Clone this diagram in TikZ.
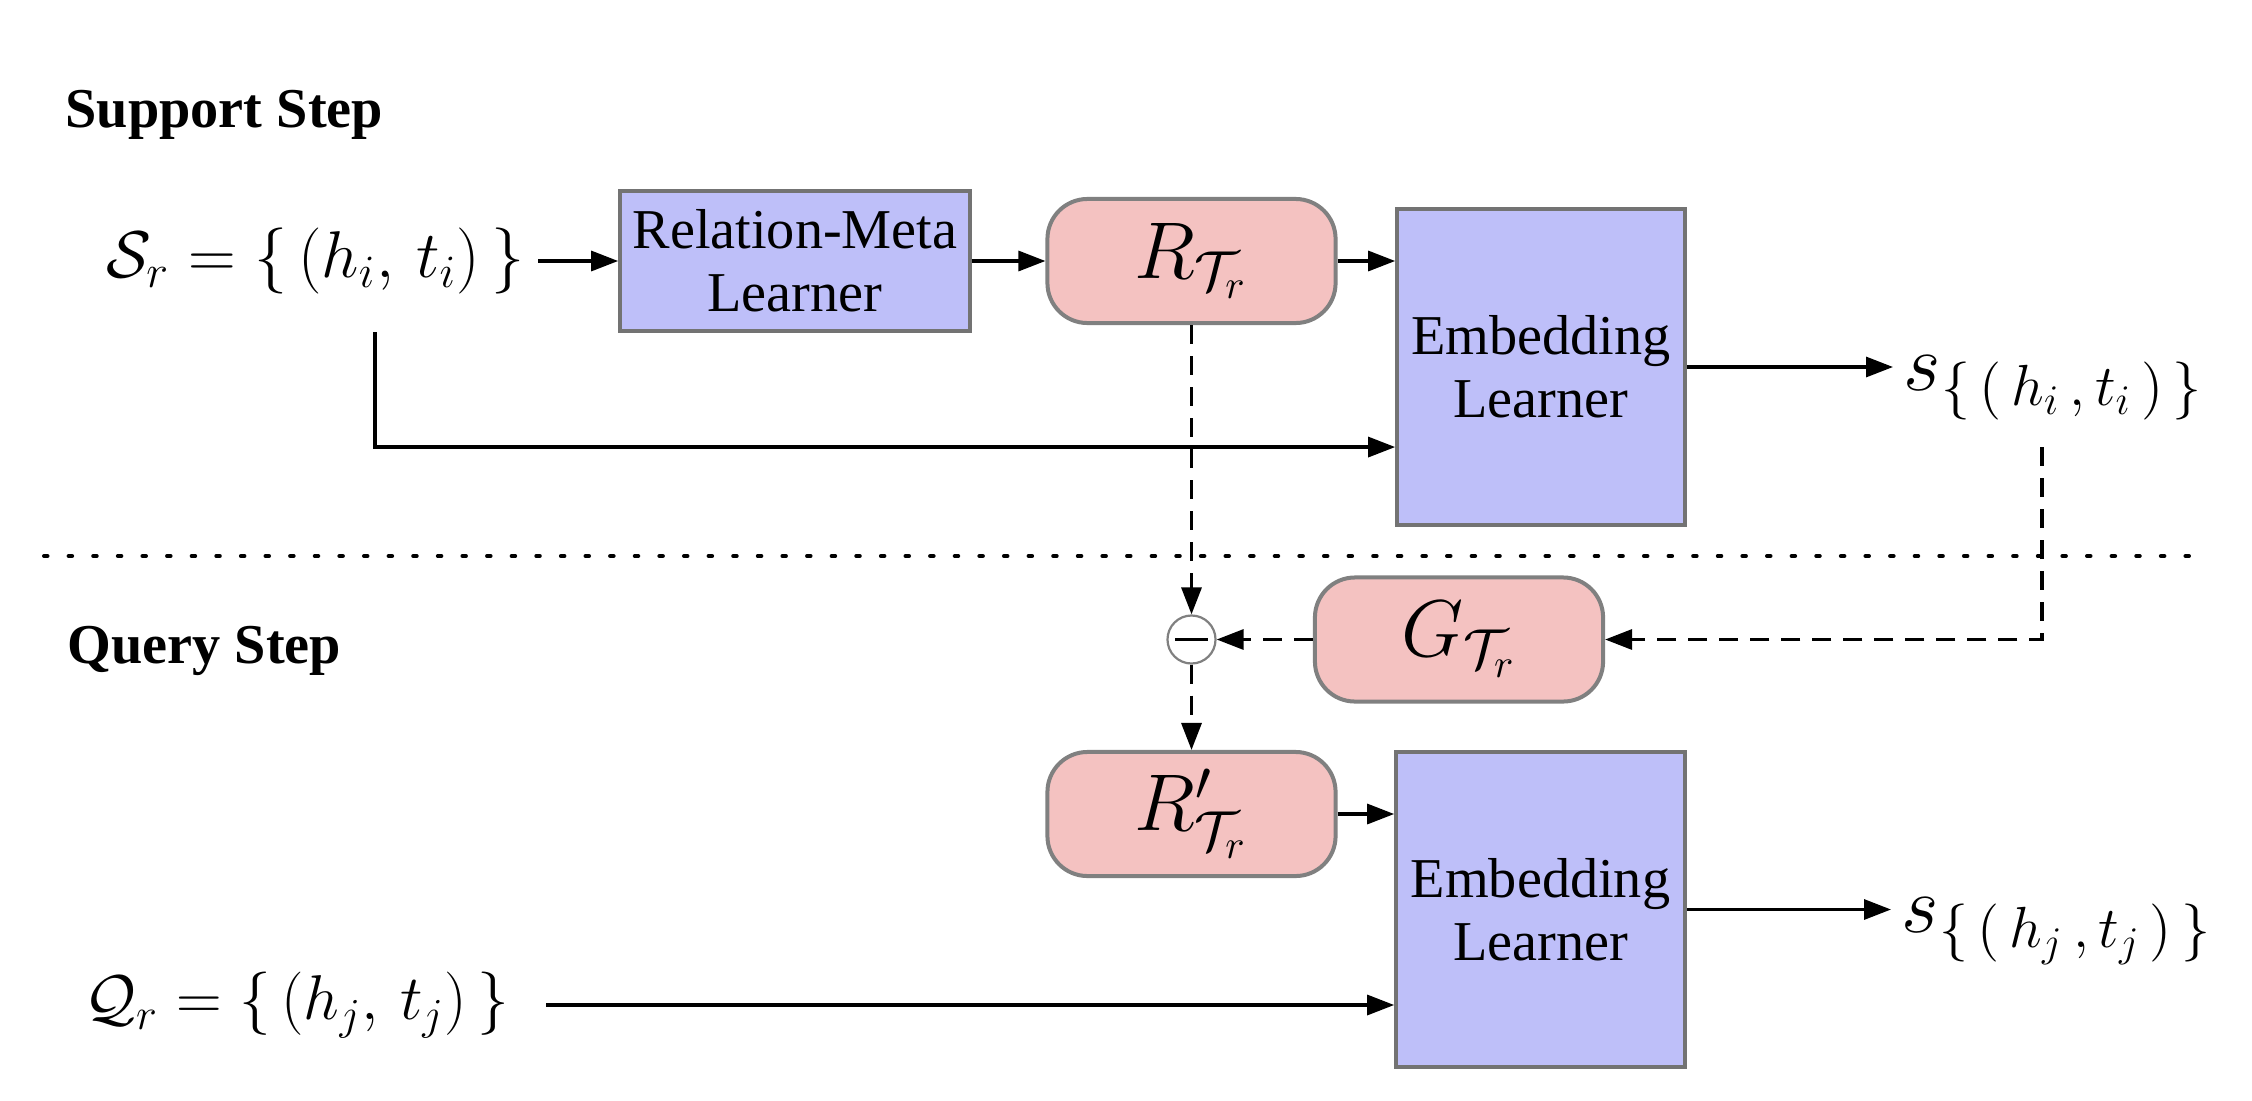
\RequirePackage{fix-cm}
\documentclass[tikz,border=0pt]{standalone}
\usepackage[no-math]{fontspec}
\setmainfont{Liberation Serif}
\usetikzlibrary{arrows.meta}
\DeclareMathSizes{23}{23}{16.5}{12}
\definecolor{boxblue}{RGB}{190,191,249}
\definecolor{boxpink}{RGB}{244,194,193}
\definecolor{edgegray}{RGB}{115,115,115}
\definecolor{pinkedge}{RGB}{128,128,128}
\begin{document}
\begin{tikzpicture}[x=0.01cm,y=-0.01cm,
  learner/.style={draw=edgegray, line width=0.035cm, fill=boxblue, align=center,
    inner sep=0pt, font=\fontsize{16}{17.9}\selectfont},
  param/.style={draw=pinkedge, line width=0.04cm, fill=boxpink, rounded corners=0.4cm,
    minimum width=2.88cm, minimum height=1.24cm, inner sep=0pt,
    font=\fontsize{22.9}{27}\selectfont},
  formula/.style={inner sep=0pt, font=\fontsize{18.8}{22}\selectfont},
  sformula/.style={inner sep=0pt, font=\fontsize{23}{27}\selectfont},
  steplabel/.style={inner sep=0pt, font=\fontsize{16}{19}\selectfont\bfseries},
  minuscircle/.style={circle, draw=pinkedge, line width=0.022cm, fill=white,
    minimum size=0.48cm, inner sep=0pt},
  arr/.style={line width=0.032cm, -{Triangle[length=0.27cm,width=0.2cm]}},
  darr/.style={arr, dash pattern=on 0.19cm off 0.12cm},
  dotline/.style={line width=0.04cm, dash pattern=on 0.035cm off 0.211cm, line cap=round}
]
\fill[white] (0,0) rectangle (2252,1100);
\useasboundingbox (0,0) rectangle (2252,1100);

% separator
\draw[dotline] (44,556) -- (2205,556);

% labels
\node[steplabel, anchor=base west] (sup) at (65,127) {Support Step};
\node[steplabel, anchor=base west] (qry) at (67,663) {Query Step};

% support step
\node[formula, anchor=east] (sr) at (525,261)
  {$\mathcal{S}_r=\{\,(h_i,\,t_i)\,\}$};
\node[learner, minimum width=3.5cm, minimum height=1.4cm] (rml) at (795,261)
  {Relation-Meta\\Learner};
\node[param] (r1) at (1191.5,261) {$R_{\mathcal{T}_r}$};
\node[learner, minimum width=2.88cm, minimum height=3.16cm] (el1) at (1541,367)
  {Embedding\\Learner};
\node[sformula, anchor=base west] (si) at (1903,390)
  {$s_{\{\,(\,h_i\,,\,t_i\,)\,\}}$};

% query step
\node[param] (g) at (1459,639.5) {$G_{\mathcal{T}_r}$};
\node[minuscircle] (mn) at (1191.5,639.5) {\rule[-0.0175cm]{0.33cm}{0.035cm}};
\node[param] (r2) at (1191.5,814) {$R'_{\mathcal{T}_r}$};
\node[learner, minimum width=2.89cm, minimum height=3.15cm] (el2) at (1540.5,909.5)
  {Embedding\\Learner};
\node[formula, anchor=east, font=\fontsize{18}{22}\selectfont] (qr) at (510,1005)
  {$\mathcal{Q}_r=\{\,(h_j,\,t_j)\,\}$};
\node[sformula, anchor=base west] (sj) at (1901,932)
  {$s_{\{\,(\,h_j\,,\,t_j\,)\,\}}$};

\coordinate (srdrop) at (375,332);
\coordinate (sidrop) at (2042,447);

% solid connectors
\draw[arr, shorten <=0.13cm] (sr.east) -- (sr.east -| rml.west);
\draw[arr] (rml.east) -- (rml.east -| r1.west);
\draw[arr] (r1.east) -- (r1.east -| el1.west);
\draw[arr] (srdrop) |- ([yshift=-0.8cm]el1.west);
\draw[arr, shorten >=0.1cm] (el1.east) -- (el1.east -| si.west);
\draw[arr] (r2.east) -- (r2.east -| el2.west);
\draw[arr, shorten <=0.36cm] (qr.east) -- (qr.east -| el2.west);
\draw[arr, shorten >=0.1cm] (el2.east) -- (el2.east -| sj.west);

% dashed connectors
\draw[darr] (r1.south) -- (mn.north);
\draw[darr] (mn.south) -- (r2.north);
\draw[darr] (g.west) -- (mn.east);
\draw[darr] (sidrop) |- (g.east);
\end{tikzpicture}
\end{document}
